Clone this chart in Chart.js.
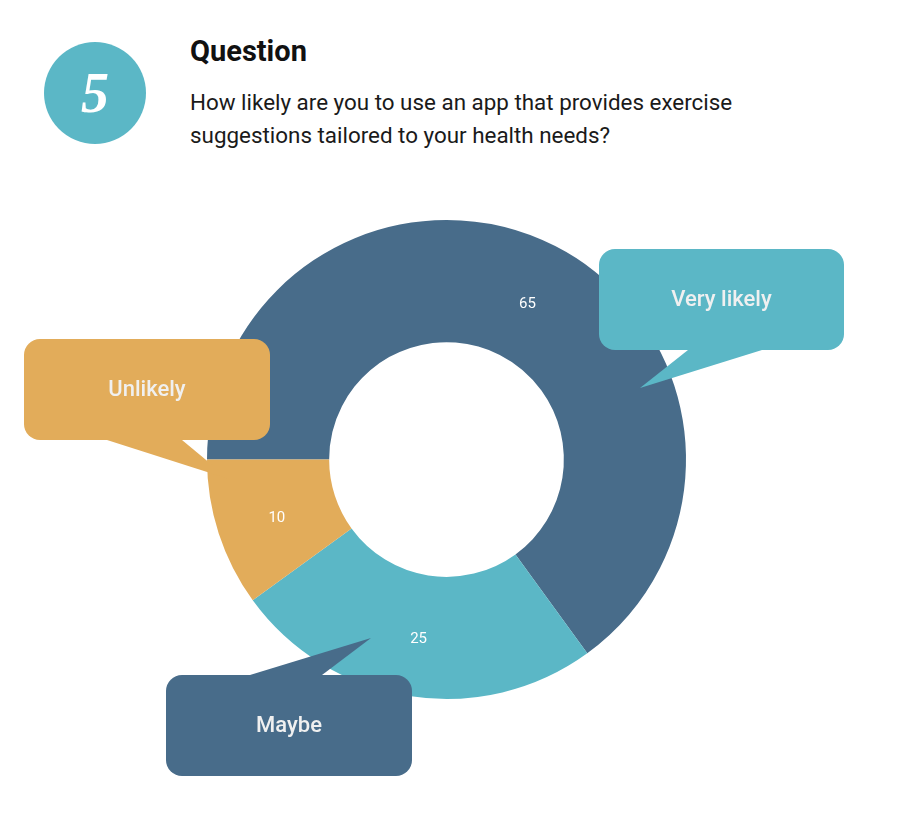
<!DOCTYPE html>
<html lang="en">
<head>
  <meta charset="UTF-8" />
  <title>Question 5</title>
  <script src="https://cdn.jsdelivr.net/npm/chart.js"></script>
  <style>
    body {
      margin: 0;
      background: #fff;
      font-family: Roboto, sans-serif;
      width: 908px;
      height: 815px;
      position: relative;
      overflow: hidden;
    }
    #badge {
      position: absolute;
      left: 44px;
      top: 42px;
      width: 102px;
      height: 102px;
      border-radius: 50%;
      background: #5bb7c6;
      color: #fff;
      font-family: 'Liberation Serif', serif;
      font-style: italic;
      font-weight: 700;
      font-size: 56px;
      line-height: 102px;
      text-align: center;
    }
    #title {
      position: absolute;
      left: 190px;
      top: 37px;
      margin: 0;
      font-size: 29px;
      line-height: 29px;
      font-weight: 700;
      color: #111;
    }
    #question {
      position: absolute;
      left: 190px;
      top: 86px;
      margin: 0;
      font-size: 22.4px;
      line-height: 33px;
      color: #1a1a1a;
    }
    #pie {
      position: absolute;
      left: 0;
      top: 0;
    }
  </style>
</head>
<body>
  <div id="badge">5</div>
  <h2 id="title">Question</h2>
  <p id="question">How likely are you to use an app that provides exercise<br>suggestions tailored to your health needs?</p>
  <canvas id="pie" width="908" height="815"></canvas>

  <script>
    const answers = ['Very likely', 'Maybe', 'Unlikely'];
    const counts = [65, 25, 10];
    const colors = ['#486c8a', '#5bb7c6', '#e2ac5a'];

    // speech bubbles: box, tail base (x1, x2 on the box edge) and tail tip
    const bubbles = [
      { i: 0, box: [599, 249, 245, 101], tail: [688, 762, 350], tip: [640, 388] },
      { i: 1, box: [166, 675, 246, 101], tail: [250, 322, 675], tip: [371, 638] },
      { i: 2, box: [24, 339, 246, 101], tail: [107, 182, 440], tip: [229, 479] }
    ];
    const bubbleColors = ['#5bb7c6', '#486c8a', '#e2ac5a'];

    const valueLabels = {
      id: 'valueLabels',
      afterDatasetsDraw(chart) {
        const ctx = chart.ctx;
        const meta = chart.getDatasetMeta(0);
        ctx.save();
        ctx.fillStyle = '#ffffff';
        ctx.font = '15px Roboto, sans-serif';
        ctx.textAlign = 'center';
        ctx.textBaseline = 'middle';
        meta.data.forEach((arc, i) => {
          const p = arc.tooltipPosition();
          ctx.fillText(String(counts[i]), p.x, p.y + 4);
        });
        ctx.restore();
      }
    };

    const callouts = {
      id: 'callouts',
      afterDraw(chart) {
        const ctx = chart.ctx;
        ctx.save();
        bubbles.forEach((b, k) => {
          const [x, y, w, h] = b.box;
          ctx.fillStyle = bubbleColors[k];
          ctx.beginPath();
          ctx.roundRect(x, y, w, h, 16);
          ctx.fill();
          ctx.beginPath();
          ctx.moveTo(b.tail[0], b.tail[2]);
          ctx.lineTo(b.tip[0], b.tip[1]);
          ctx.lineTo(b.tail[1], b.tail[2]);
          ctx.closePath();
          ctx.fill();
          ctx.fillStyle = '#f0f0f0';
          ctx.font = '500 22px Roboto, sans-serif';
          ctx.textAlign = 'center';
          ctx.textBaseline = 'middle';
          ctx.fillText(answers[b.i], x + w / 2, y + h / 2 + 1);
        });
        ctx.restore();
      }
    };

    new Chart(document.getElementById('pie'), {
      type: 'doughnut',
      data: {
        labels: answers,
        datasets: [{
          data: counts,
          backgroundColor: colors,
          borderWidth: 0,
          hoverOffset: 0
        }]
      },
      options: {
        responsive: false,
        animation: false,
        rotation: -90,
        cutout: '49%',
        layout: {
          padding: { left: 207, top: 220, right: 222, bottom: 116 }
        },
        plugins: {
          legend: { display: false },
          tooltip: { enabled: false }
        }
      },
      plugins: [valueLabels, callouts]
    });
  </script>
</body>
</html>
